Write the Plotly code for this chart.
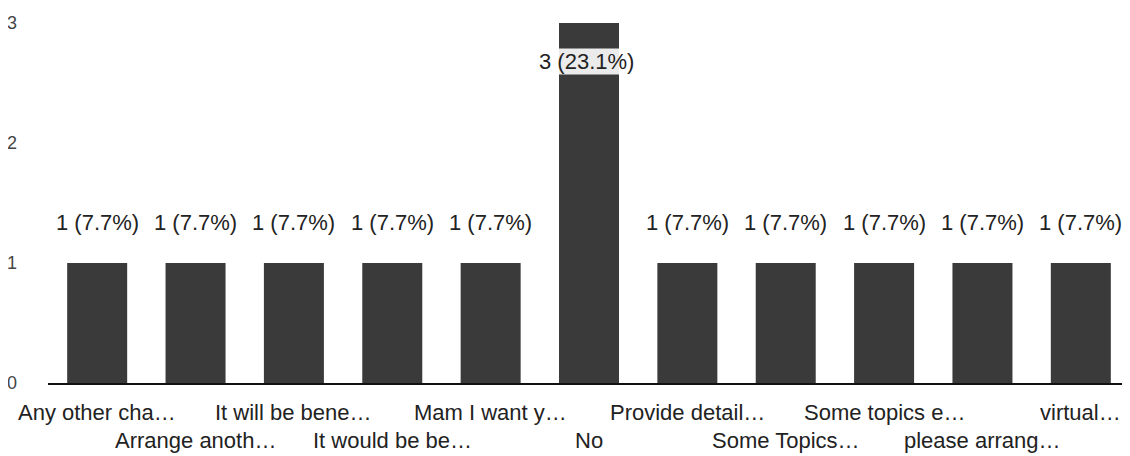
import plotly.graph_objects as go

categories = ["Any other cha…", "Arrange anoth…", "It will be bene…", "It would be be…",
              "Mam I want y…", "No", "Provide detail…", "Some Topics…",
              "Some topics e…", "please arrang…", "virtual…"]
values = [1, 1, 1, 1, 1, 3, 1, 1, 1, 1, 1]
y_ticks = [0, 1, 2, 3]

total = sum(values)
FONT = "Liberation Sans, Arial, sans-serif"

fig = go.Figure(go.Bar(
    x=categories, y=values,
    marker=dict(color="#3a3a3a", line=dict(width=0)),
    width=0.61,
    hoverinfo="skip",
))

annotations = []
vmax = max(values)
for c, v in zip(categories, values):
    txt = f"{v} ({v / total * 100:.1f}%)"
    if v == vmax:
        annotations.append(dict(x=c, y=v, xref="x", yref="y", text=txt, showarrow=False,
                                yanchor="middle", yshift=-38, xshift=-3,
                                bgcolor="rgba(255,255,255,0.9)", borderpad=0,
                                font=dict(family=FONT, size=22, color="#222")))
    else:
        annotations.append(dict(x=c, y=v, xref="x", yref="y", text=txt, showarrow=False,
                                yanchor="middle", yshift=41,
                                font=dict(family=FONT, size=22, color="#222")))

for i, c in enumerate(categories):
    annotations.append(dict(x=c, y=0, xref="x", yref="paper", text=c, showarrow=False,
                            yanchor="middle", yshift=-29 if i % 2 == 0 else -57,
                            font=dict(family=FONT, size=22, color="#222")))

fig.update_layout(
    width=1122, height=448,
    margin=dict(l=40, r=0, t=15, b=73, autoexpand=False),
    paper_bgcolor="white", plot_bgcolor="white",
    showlegend=False,
    annotations=annotations,
    xaxis=dict(range=[-0.5, len(categories) - 0.5], showticklabels=False, showgrid=False,
               zeroline=False, showline=True, linecolor="#111", linewidth=1.5, ticks=""),
    yaxis=dict(range=[0, 3], tickvals=y_ticks, showgrid=False, zeroline=False,
               showline=False, ticks="", ticklabelstandoff=30, automargin=False,
               tickfont=dict(family=FONT, size=18, color="#444")),
)

fig.write_html("out.html")
